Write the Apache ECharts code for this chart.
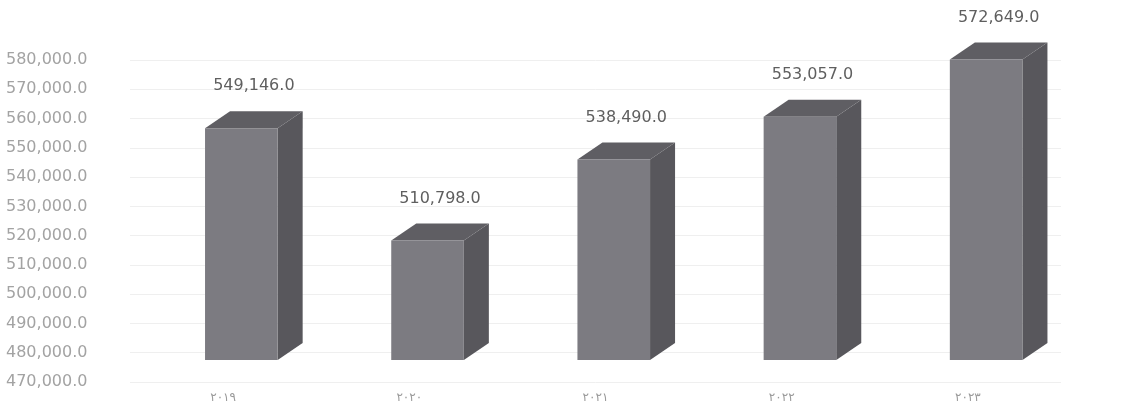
<!DOCTYPE html>
<html>
<head>
<meta charset="utf-8">
<script src="https://cdn.jsdelivr.net/npm/echarts@6/dist/echarts.min.js"></script>
<style>
html,body{margin:0;padding:0;background:#fff;}
#chart{width:1125px;height:414px;}
</style>
</head>
<body>
<div id="chart"></div>
<script>
const categories = ['٢٠١٩', '٢٠٢٠', '٢٠٢١', '٢٠٢٢', '٢٠٢٣'];
const values = [549146, 510798, 538490, 553057, 572649];
const yMin = 470000;
const yMax = 580000;
const yStep = 10000;

const fmt = v => v.toLocaleString('en-US', {minimumFractionDigits: 1, maximumFractionDigits: 1});

const chart = echarts.init(document.getElementById('chart'), null, {renderer: 'canvas'});

const FRONT = '#7c7b81';
const SIDE = '#58575c';
const TOP = '#5f5e63';

function renderBar(params, api) {
  const idx = api.value(0);
  const val = api.value(1);
  const top = api.coord([idx, val]);
  const base = api.coord([idx, yMin]);
  const band = api.size([1, 0])[0];
  const w = band * 0.39;
  const shiftX = band * 0.098;
  const shiftY = -22;
  const dx = 25, dy = -17;
  const x0 = top[0] + shiftX - w / 2;
  const x1 = x0 + w;
  const yt = top[1] + shiftY;
  const yb = base[1] + shiftY;
  return {
    type: 'group',
    children: [
      {type: 'polygon', shape: {points: [[x1, yt], [x1 + dx, yt + dy], [x1 + dx, yb + dy], [x1, yb]]}, style: {fill: SIDE}},
      {type: 'polygon', shape: {points: [[x0, yt], [x1, yt], [x1 + dx, yt + dy], [x0 + dx, yt + dy]]}, style: {fill: TOP}},
      {type: 'rect', shape: {x: x0, y: yt, width: w, height: yb - yt}, style: {fill: FRONT}},
      {type: 'text', style: {text: fmt(val), x: (x0 + x1) / 2 + dx / 2, y: yt - 42, align: 'center', verticalAlign: 'middle', fill: '#5f5f5f', font: '16px "DejaVu Sans"'}}
    ]
  };
}

chart.setOption({
  animation: false,
  backgroundColor: '#ffffff',
  grid: {left: 130, right: 64, top: 60, bottom: 32},
  xAxis: {
    type: 'category',
    data: categories,
    axisLine: {show: false},
    axisTick: {show: false},
    axisLabel: {margin: 10, color: '#9a9a9a', fontSize: 12, fontFamily: 'DejaVu Sans'}
  },
  yAxis: {
    type: 'value',
    min: yMin,
    max: yMax,
    interval: yStep,
    axisLine: {show: false},
    axisTick: {show: false},
    axisLabel: {
      align: 'left', margin: 124, color: '#a3a3a3', fontSize: 16, fontFamily: 'DejaVu Sans',
      formatter: v => fmt(v)
    },
    splitLine: {lineStyle: {color: '#efefef', width: 1}}
  },
  series: [{
    type: 'custom',
    data: values.map((v, i) => [i, v]),
    renderItem: renderBar,
    clip: false
  }]
});
</script>
</body>
</html>
